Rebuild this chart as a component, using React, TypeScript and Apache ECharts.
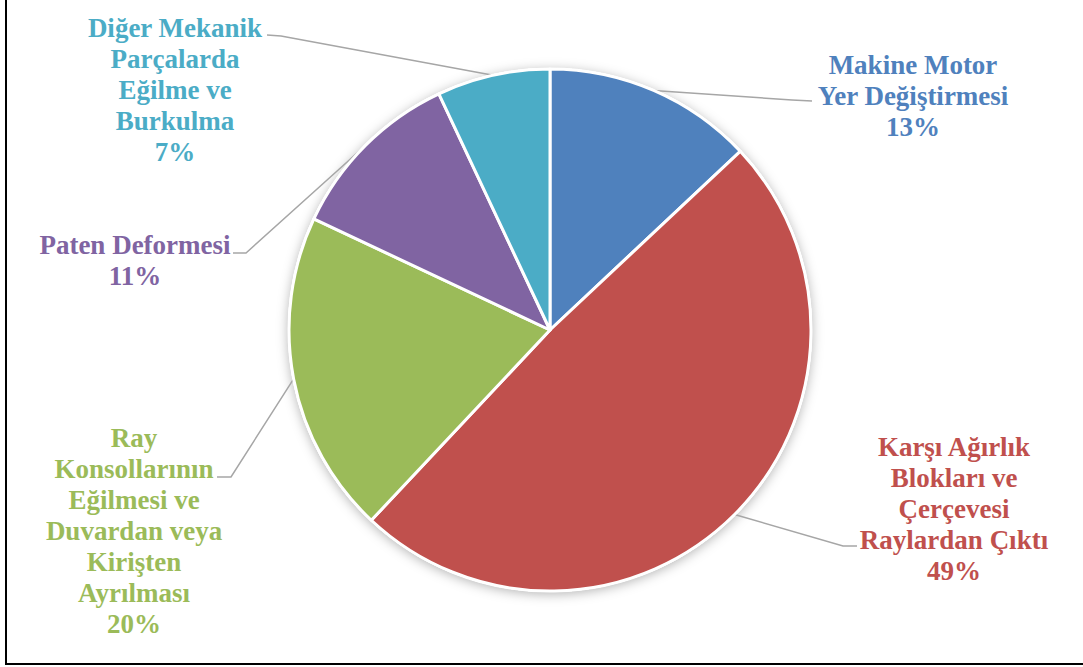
import React, { useEffect, useRef } from "react";
import * as echarts from "echarts";

const categories = [
  "Makine Motor\nYer Değiştirmesi",
  "Karşı Ağırlık\nBlokları ve\nÇerçevesi\nRaylardan Çıktı",
  "Ray\nKonsollarının\nEğilmesi ve\nDuvardan veya\nKirişten\nAyrılması",
  "Paten Deformesi",
  "Diğer Mekanik\nParçalarda\nEğilme ve\nBurkulma",
];
const values = [13, 49, 20, 11, 7];
const colors = ["#4F81BD", "#C0504D", "#9BBB59", "#8064A2", "#4BACC6"];

// label block anchor (center x, top y) and leader line bend/end points
const labelAnchors = [
  { x: 913, y: 49, bend: [792, 100], end: [812, 101] },
  { x: 954, y: 431, bend: [843, 546], end: [857, 546] },
  { x: 134, y: 422, bend: [231, 477], end: [217, 477] },
  { x: 135, y: 229, bend: [246, 253], end: [233, 253] },
  { x: 175, y: 12, bend: [281, 36], end: [267, 35] },
];

const FONT = "Liberation Serif";

export default function App() {
  const ref = useRef<HTMLDivElement>(null);
  useEffect(() => {
    if (!ref.current) return;
    const chart = echarts.init(ref.current, null, { renderer: "svg" });
    const data = categories.map((name, i) => ({
      name,
      value: values[i],
      itemStyle: { color: colors[i] },
      label: { color: colors[i] },
    }));
    chart.setOption({
      animation: false,
      backgroundColor: "#ffffff",
      textStyle: { fontFamily: FONT },
      series: [
        {
          type: "pie",
          silent: true,
          center: [550, 330],
          radius: 262,
          z: 1,
          data: [{ value: 1, name: "" }],
          label: { show: false },
          labelLine: { show: false },
          itemStyle: {
            color: "#ffffff",
            shadowBlur: 12,
            shadowOffsetY: 2,
            shadowColor: "rgba(0,0,0,0.3)",
          },
        },
        {
          type: "pie",
          z: 2,
          center: [550, 330],
          radius: 261,
          startAngle: 90,
          clockwise: true,
          percentPrecision: 0,
          data,
          itemStyle: { borderColor: "#ffffff", borderWidth: 3 },
          label: {
            show: true,
            position: "outside",
            formatter: "{b}\n{d}%",
            fontFamily: FONT,
            fontWeight: "bold",
            fontSize: 27,
            lineHeight: 31,
            align: "center",
          },
          labelLine: {
            show: true,
            lineStyle: { color: "#A6A6A6", width: 1.5 },
          },
          labelLayout: (params: any) => {
            const a = labelAnchors[params.dataIndex];
            const p0 = params.labelLinePoints ? params.labelLinePoints[0] : a.bend;
            return {
              x: a.x,
              y: a.y,
              align: "center",
              verticalAlign: "top",
              labelLinePoints: [p0, a.bend, a.end],
            };
          },
        },
      ],
    });
    return () => chart.dispose();
  }, []);
  return (
    <div style={{ position: "fixed", left: 0, top: 0, width: 1083, height: 667, background: "#fff" }}>
      <div ref={ref} style={{ position: "absolute", left: 0, top: 0, width: 1083, height: 667 }} />
      <div
        style={{
          position: "absolute",
          left: 5,
          top: 0,
          width: 1078,
          height: 663,
          borderLeft: "2px solid #000",
          borderBottom: "2px solid #000",
          pointerEvents: "none",
        }}
      />
    </div>
  );
}
